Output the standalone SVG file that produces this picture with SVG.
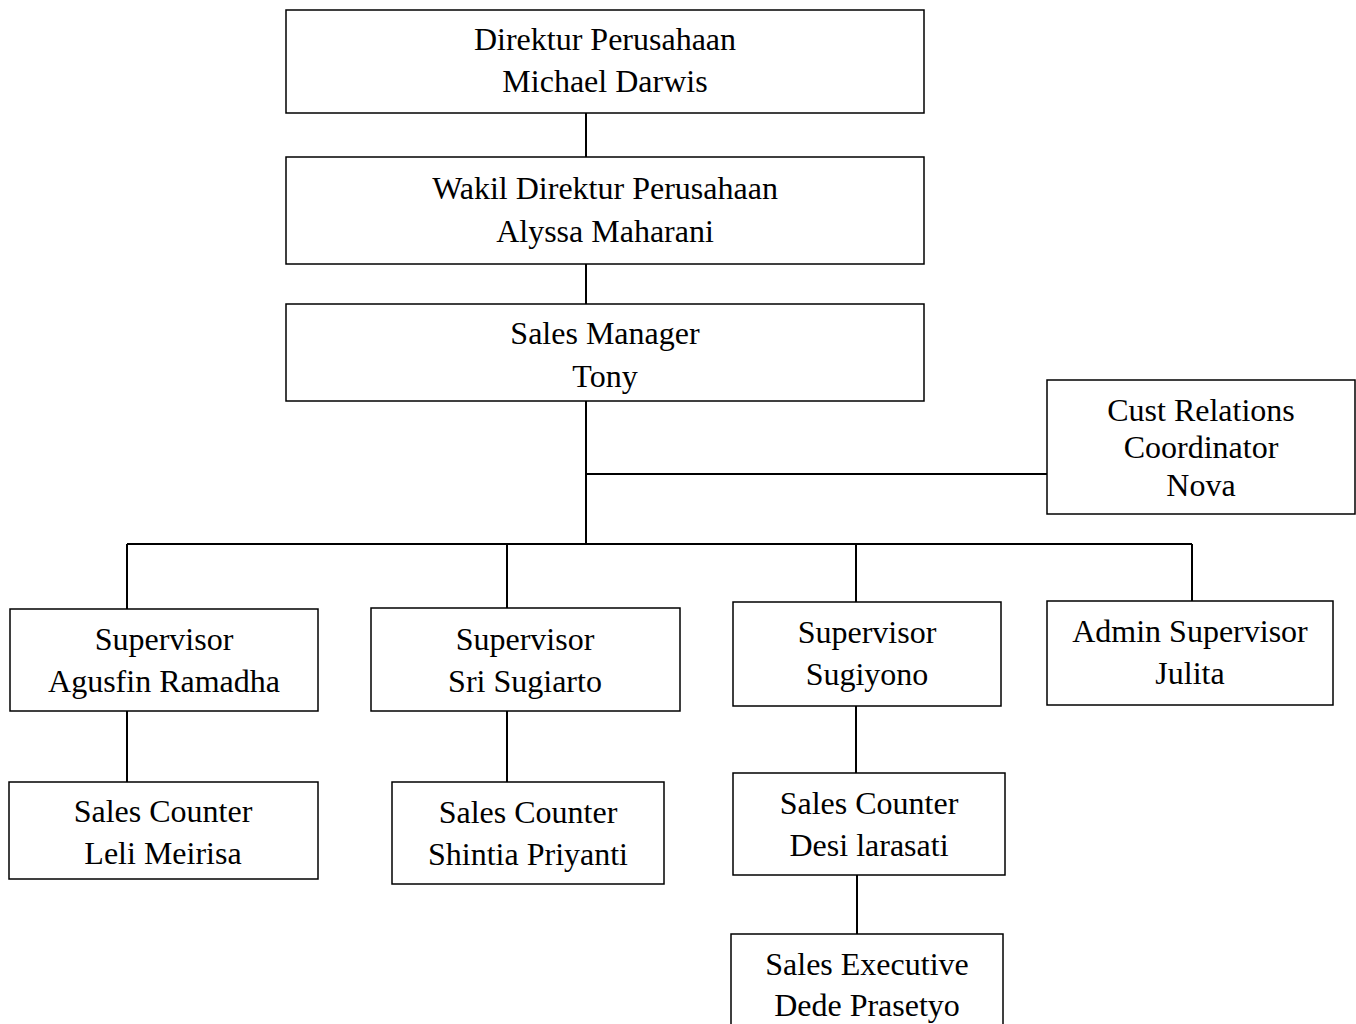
<svg xmlns="http://www.w3.org/2000/svg" width="1356" height="1024" viewBox="0 0 1356 1024">
<style>
.box{fill:#fff;stroke:#000;stroke-width:1.5}
.t{font-family:"Liberation Serif","Times New Roman",serif;font-size:32px;fill:#000;text-anchor:middle}
.c{stroke:#000;stroke-width:2;fill:none}
</style>
<rect width="1356" height="1024" fill="#fff"/>
<g id="connectors">
<path class="c" d="M586 113V157M586 264V304M586 401V544M586 474H1047M127 544H1192M127 544V609M507 544V608M856 544V602M1192 544V601M127 711V782M507 711V782M856 706V773M857 875V934"/>
</g>
<g id="n-direktur"><rect class="box" x="286" y="10" width="638" height="103"/><text class="t" x="605" y="50">Direktur Perusahaan</text><text class="t" x="605" y="92">Michael Darwis</text></g>
<g id="n-wakil"><rect class="box" x="286" y="157" width="638" height="107"/><text class="t" x="605" y="199">Wakil Direktur Perusahaan</text><text class="t" x="605" y="242">Alyssa Maharani</text></g>
<g id="n-manager"><rect class="box" x="286" y="304" width="638" height="97"/><text class="t" x="605" y="344">Sales Manager</text><text class="t" x="605" y="387">Tony</text></g>
<g id="n-cust"><rect class="box" x="1047" y="380" width="308" height="134"/><text class="t" x="1201" y="421">Cust Relations</text><text class="t" x="1201" y="458">Coordinator</text><text class="t" x="1201" y="496">Nova</text></g>
<g id="n-sup1"><rect class="box" x="10" y="609" width="308" height="102"/><text class="t" x="164" y="650">Supervisor</text><text class="t" x="164" y="692">Agusfin Ramadha</text></g>
<g id="n-sup2"><rect class="box" x="371" y="608" width="309" height="103"/><text class="t" x="525" y="650">Supervisor</text><text class="t" x="525" y="692">Sri Sugiarto</text></g>
<g id="n-sup3"><rect class="box" x="733" y="602" width="268" height="104"/><text class="t" x="867" y="643">Supervisor</text><text class="t" x="867" y="685">Sugiyono</text></g>
<g id="n-admin"><rect class="box" x="1047" y="601" width="286" height="104"/><text class="t" x="1190" y="642">Admin Supervisor</text><text class="t" x="1190" y="684">Julita</text></g>
<g id="n-sc1"><rect class="box" x="9" y="782" width="309" height="97"/><text class="t" x="163" y="822">Sales Counter</text><text class="t" x="163" y="864">Leli Meirisa</text></g>
<g id="n-sc2"><rect class="box" x="392" y="782" width="272" height="102"/><text class="t" x="528" y="823">Sales Counter</text><text class="t" x="528" y="865">Shintia Priyanti</text></g>
<g id="n-sc3"><rect class="box" x="733" y="773" width="272" height="102"/><text class="t" x="869" y="814">Sales Counter</text><text class="t" x="869" y="856">Desi larasati</text></g>
<g id="n-se"><rect class="box" x="731" y="934" width="272" height="100"/><text class="t" x="867" y="975">Sales Executive</text><text class="t" x="867" y="1016">Dede Prasetyo</text></g>
</svg>
